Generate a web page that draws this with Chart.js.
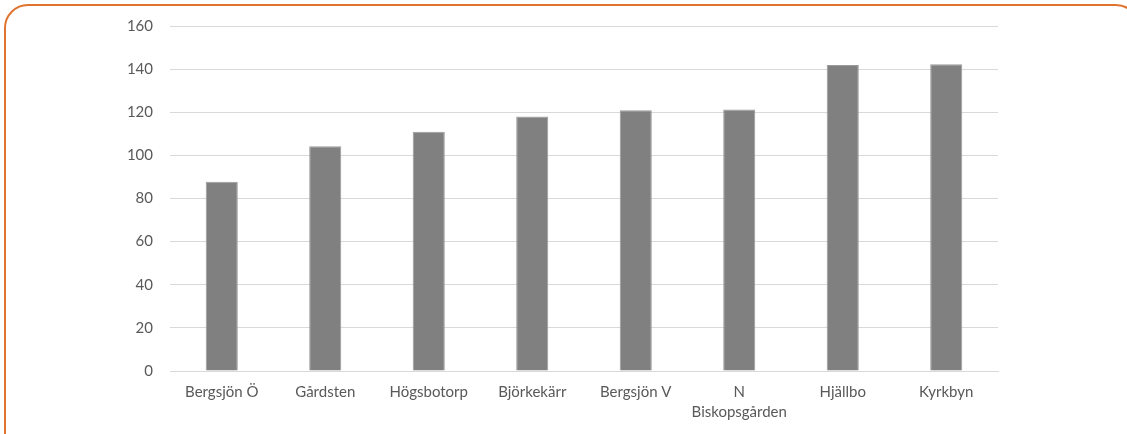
<!DOCTYPE html>
<html>
<head>
<meta charset="utf-8">
<script src="https://cdn.jsdelivr.net/npm/chart.js@4/dist/chart.umd.min.js"></script>
<style>
  html, body { margin: 0; padding: 0; background: #fff; overflow: hidden; }
  #wrap { position: relative; width: 1127px; height: 434px; overflow: hidden; }
  #frame {
    position: absolute; left: 4px; top: 4px; width: 1136px; height: 470px;
    box-sizing: border-box; border: 2px solid #e0742f; border-radius: 24px;
  }
  canvas { position: absolute; left: 0; top: 0; }
</style>
</head>
<body>
<div id="wrap">
  <div id="frame"></div>
  <canvas id="chart" width="1127" height="434"></canvas>
</div>
<script>
const areas = ["Bergsjön Ö", "Gårdsten", "Högsbotorp", "Björkekärr", "Bergsjön V", ["N", "Biskopsgården"], "Hjällbo", "Kyrkbyn"];
const values = [87.8, 104.2, 111.0, 118.0, 120.9, 121.3, 141.9, 142.3];
const yMin = 0;
const yMax = 160;
const yStep = 20;

const ctx = document.getElementById("chart");
const myChart = new Chart(ctx, {
  type: "bar",
  data: {
    labels: areas,
    datasets: [{
      data: values,
      backgroundColor: "#808080",
      borderColor: "#9a9a9a",
      borderWidth: 1,
      barPercentage: 0.62,
      categoryPercentage: 0.5
    }]
  },
  options: {
    responsive: false,
    animation: false,
    events: [],
    layout: { padding: { left: 0, right: 129, top: 25, bottom: 0 } },
    plugins: { legend: { display: false }, tooltip: { enabled: false } },
    scales: {
      x: {
        grid: { display: false, drawTicks: false },
        border: { color: "#d9d9d9", width: 1 },
        ticks: {
          color: "#595959",
          font: { family: "Lato", size: 15, lineHeight: 1.35 },
          padding: 11,
          maxRotation: 0,
          autoSkip: false
        },
        afterFit: (scale) => { scale.height = 63; }
      },
      y: {
        min: yMin,
        max: yMax,
        grid: { color: "#d9d9d9", lineWidth: 1, drawTicks: false },
        border: { display: false },
        ticks: {
          stepSize: yStep,
          color: "#595959",
          font: { family: "Lato", size: 15 },
          padding: 17
        },
        afterFit: (scale) => { scale.width = 170; }
      }
    }
  }
});
</script>
</body>
</html>
